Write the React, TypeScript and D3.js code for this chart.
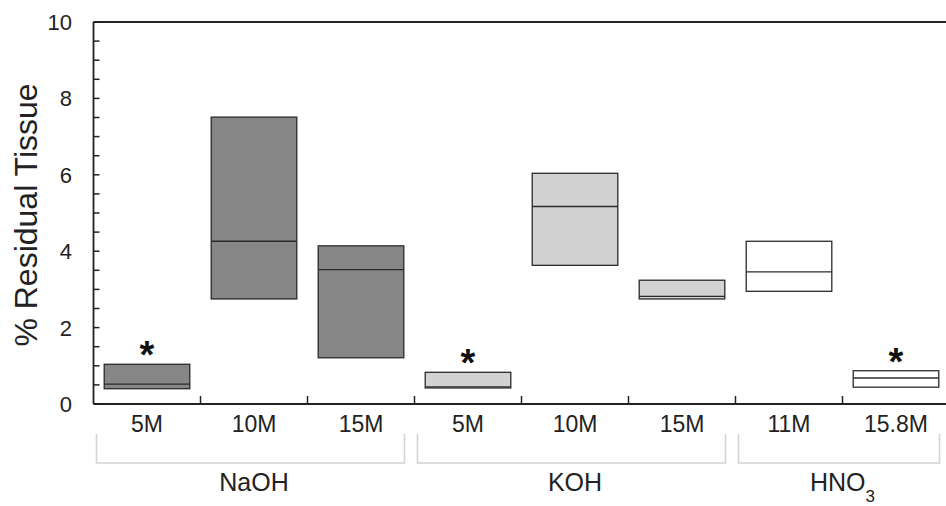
import React from "react";
import * as d3 from "d3";

const categories = ["5M", "10M", "15M", "5M", "10M", "15M", "11M", "15.8M"];
const groupOf = ["NaOH", "NaOH", "NaOH", "KOH", "KOH", "KOH", "HNO3", "HNO3"];
const groupNames = ["NaOH", "KOH", "HNO3"];
const lowValues = [0.4, 2.75, 1.21, 0.42, 3.63, 2.75, 2.95, 0.44];
const medianValues = [0.52, 4.26, 3.52, 0.45, 5.17, 2.82, 3.46, 0.68];
const highValues = [1.04, 7.51, 4.14, 0.83, 6.04, 3.24, 4.26, 0.87];
const significant = [true, false, false, true, false, false, false, true];
const yMajorTicks = [0, 2, 4, 6, 8, 10];
const yMinorTicks = d3.range(0, 10.001, 0.5);

const groupFill: Record<string, string> = { NaOH: "#868686", KOH: "#d2d2d2", HNO3: "#ffffff" };

const W = 946;
const H = 506;
const left = 93.5;
const right = 949.5;
const top = 22;
const bottom = 404;
const font = "'Liberation Sans', Arial, sans-serif";

export default function App() {
  const idx = categories.map((_, i) => i);
  const x = d3.scaleBand<number>().domain(idx).range([left, right]).paddingInner(0.2).paddingOuter(0.1);
  const step = x.step();
  const y = d3.scaleLinear().domain([0, 10]).range([bottom, top]);

  const groups = groupNames.map((g) => {
    const members = idx.filter((i) => groupOf[i] === g);
    const start = left + members[0] * step;
    const end = left + (members[members.length - 1] + 1) * step;
    return { g, start, end };
  });

  return (
    <svg width={W} height={H} style={{ position: "absolute", left: 0, top: 0, display: "block", background: "#fff" }}>
      {/* group brackets */}
      {groups.map(({ g, start, end }) => (
        <path
          key={"br" + g}
          d={`M${start + 3},434 V463 H${end - 10} V434`}
          fill="none"
          stroke="#d4d4d4"
          strokeWidth={1.6}
        />
      ))}

      {/* boxes */}
      {idx.map((i) => {
        const x0 = x(i)!;
        const bw = x.bandwidth();
        const yt = y(highValues[i]);
        const yb = y(lowValues[i]);
        const ym = y(medianValues[i]);
        return (
          <g key={"box" + i}>
            <rect x={x0} y={yt} width={bw} height={yb - yt} fill={groupFill[groupOf[i]]} stroke="#2a2a2a" strokeWidth={1.3} />
            <line x1={x0} x2={x0 + bw} y1={ym} y2={ym} stroke="#2a2a2a" strokeWidth={1.3} />
            {significant[i] && (
              <text
                x={x0 + bw / 2}
                y={yt + 4}
                textAnchor="middle"
                fontFamily={font}
                fontWeight="bold"
                fontSize={38}
                fill="#111"
              >
                *
              </text>
            )}
          </g>
        );
      })}

      {/* axes frame */}
      <line x1={left} x2={W} y1={top} y2={top} stroke="#222" strokeWidth={1.8} />
      <line x1={left} x2={left} y1={top} y2={bottom} stroke="#222" strokeWidth={1.8} />
      <line x1={left} x2={W} y1={bottom} y2={bottom} stroke="#222" strokeWidth={1.8} />

      {/* y ticks */}
      {yMinorTicks.map((t) => (
        <line key={"yt" + t} x1={left} x2={left + 6} y1={y(t)} y2={y(t)} stroke="#222" strokeWidth={1.5} />
      ))}
      {yMajorTicks.map((t) => (
        <text key={"yl" + t} x={72} y={y(t) + 8} textAnchor="end" fontFamily={font} fontSize={22} fill="#222">
          {t}
        </text>
      ))}

      {/* x boundary ticks */}
      {idx.slice(1).map((i) => (
        <line key={"xt" + i} x1={left + i * step} x2={left + i * step} y1={bottom} y2={bottom - 8} stroke="#222" strokeWidth={1.5} />
      ))}

      {/* category labels */}
      {idx.map((i) => (
        <text key={"xl" + i} x={x(i)! + x.bandwidth() / 2} y={432} textAnchor="middle" fontFamily={font} fontSize={23} fill="#222">
          {categories[i]}
        </text>
      ))}

      {/* group labels */}
      {groups.map(({ g, start, end }) => (
        <text key={"gl" + g} x={(start + end) / 2} y={491} textAnchor="middle" fontFamily={font} fontSize={25} fill="#222">
          {g === "HNO3" ? (
            <>
              HNO
              <tspan fontSize={17} dy={11}>3</tspan>
            </>
          ) : (
            g
          )}
        </text>
      ))}

      {/* y title */}
      <text
        transform="translate(37,215) rotate(-90)"
        textAnchor="middle"
        fontFamily={font}
        fontSize={32}
        fill="#222"
      >
        % Residual Tissue
      </text>
    </svg>
  );
}
